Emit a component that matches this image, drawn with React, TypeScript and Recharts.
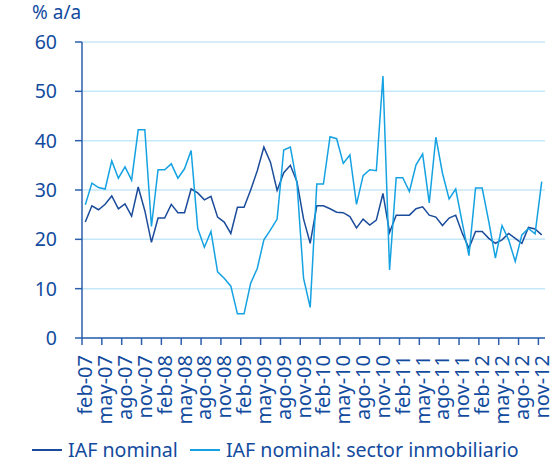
import { CartesianGrid, Legend, Line, LineChart, XAxis, YAxis } from 'recharts'

const monthNames = ['ene', 'feb', 'mar', 'abr', 'may', 'jun', 'jul', 'ago', 'sep', 'oct', 'nov', 'dic']

// feb-07 .. nov-12
const months: string[] = []
for (let y = 7; y <= 12; y++) {
  for (let m = 0; m < 12; m++) {
    if (y === 7 && m < 1) continue
    if (y === 12 && m > 10) continue
    months.push(`${monthNames[m]}-${String(y).padStart(2, '0')}`)
  }
}

const iafNominal = [
  23.5, 26.8, 26.0, 27.1, 28.8, 26.2, 27.2, 24.7, 30.6, 25.8,
  19.4, 24.3, 24.3, 27.1, 25.4, 25.4, 30.2, 29.4, 28.0, 28.7,
  24.5, 23.5, 21.2, 26.5, 26.5, 30.0, 33.9, 38.7, 35.6, 29.9,
  33.5, 35.0, 31.7, 24.1, 19.2, 26.8, 26.8, 26.2, 25.5, 25.4,
  24.6, 22.3, 24.1, 22.9, 23.9, 29.3, 21.4, 24.9, 24.9, 24.9,
  26.2, 26.6, 24.9, 24.5, 22.8, 24.3, 24.9, 21.2, 18.2, 21.6,
  21.6, 20.2, 19.2, 19.9, 21.2, 20.2, 19.2, 22.4, 22.1, 20.9,
]

const iafInmobiliario = [
  27.0, 31.4, 30.5, 30.2, 35.9, 32.4, 34.7, 32.0, 42.2, 42.2,
  22.6, 34.1, 34.1, 35.3, 32.4, 34.3, 38.0, 22.2, 18.4, 21.6,
  13.4, 12.1, 10.5, 4.9, 4.9, 11.1, 14.1, 19.9, 21.9, 24.1,
  38.1, 38.7, 31.4, 12.1, 6.2, 31.2, 31.2, 40.8, 40.4, 35.4,
  37.1, 27.1, 32.9, 34.1, 33.9, 53.1, 13.8, 32.5, 32.5, 29.7,
  35.1, 37.3, 27.4, 40.7, 33.4, 28.2, 30.2, 23.3, 16.7, 30.4,
  30.4, 23.6, 16.2, 22.8, 19.9, 15.5, 20.9, 22.2, 21.1, 31.7,
]

const yTicks = [0, 10, 20, 30, 40, 50, 60]

const data = months.map((m, i) => ({
  m,
  nominal: iafNominal[i],
  inmob: iafInmobiliario[i],
}))

const TEXT = '#124b9e'
const AXIS = '#2b5fae'
const DARK = '#1b4c9b'
const LIGHT = '#15a2e2'
const GRID = '#c6e7f7'
const FONT = '"Noto Sans", sans-serif'
const HALF = 3.3

function XTick(props: any) {
  const { x, y, payload } = props
  return (
    <g>
      <line x1={x - HALF} x2={x - HALF} y1={y - 8} y2={y - 1} stroke={AXIS} strokeWidth={1.5} />
      <text
        x={x}
        y={y + 9}
        transform={`rotate(-90 ${x} ${y + 9})`}
        textAnchor='end'
        dy='0.35em'
        fill={TEXT}
        fontSize={20}
        fontFamily={FONT}
      >
        {payload.value}
      </text>
    </g>
  )
}

function LegendContent() {
  const items = [
    { label: 'IAF nominal', color: DARK },
    { label: 'IAF nominal: sector inmobiliario', color: LIGHT },
  ]
  return (
    <div style={{ display: 'flex', alignItems: 'center', height: 24, paddingLeft: 32 }}>
      {items.map((it) => (
        <div key={it.label} style={{ display: 'flex', alignItems: 'center', marginRight: 12 }}>
          <div style={{ width: 30, height: 2, background: it.color, marginRight: 6 }} />
          <span style={{ color: TEXT, fontSize: 19.6, fontFamily: FONT, lineHeight: '24px' }}>{it.label}</span>
        </div>
      ))}
    </div>
  )
}

export default function App() {
  return (
    <div style={{ position: 'absolute', left: 0, top: 0, width: 560, height: 462, background: '#fff' }}>
      <div
        style={{
          position: 'absolute',
          left: 32,
          top: 0,
          color: TEXT,
          fontSize: 19,
          fontFamily: FONT,
          lineHeight: '24px',
        }}
      >
        % a/a
      </div>
      <LineChart width={560} height={462} data={data} margin={{ top: 42, right: 15, left: 0, bottom: 0 }}>
        <CartesianGrid vertical={false} stroke={GRID} strokeWidth={1.5} />
        <XAxis
          dataKey='m'
          interval={2}
          padding={{ left: HALF, right: HALF }}
          height={100}
          stroke={AXIS}
          strokeWidth={1.5}
          tickLine={false}
          tick={<XTick />}
        />
        <YAxis
          domain={[0, 60]}
          ticks={yTicks}
          width={82}
          stroke={AXIS}
          strokeWidth={1.5}
          tickSize={7}
          tickMargin={18}
          tick={{ fill: TEXT, fontSize: 19.5, fontFamily: FONT }}
        />
        <Line
          dataKey='nominal'
          stroke={DARK}
          strokeWidth={1.5}
          dot={false}
          isAnimationActive={false}
        />
        <Line
          dataKey='inmob'
          stroke={LIGHT}
          strokeWidth={1.5}
          dot={false}
          isAnimationActive={false}
        />
        <Legend verticalAlign='bottom' align='left' content={<LegendContent />} />
      </LineChart>
    </div>
  )
}
